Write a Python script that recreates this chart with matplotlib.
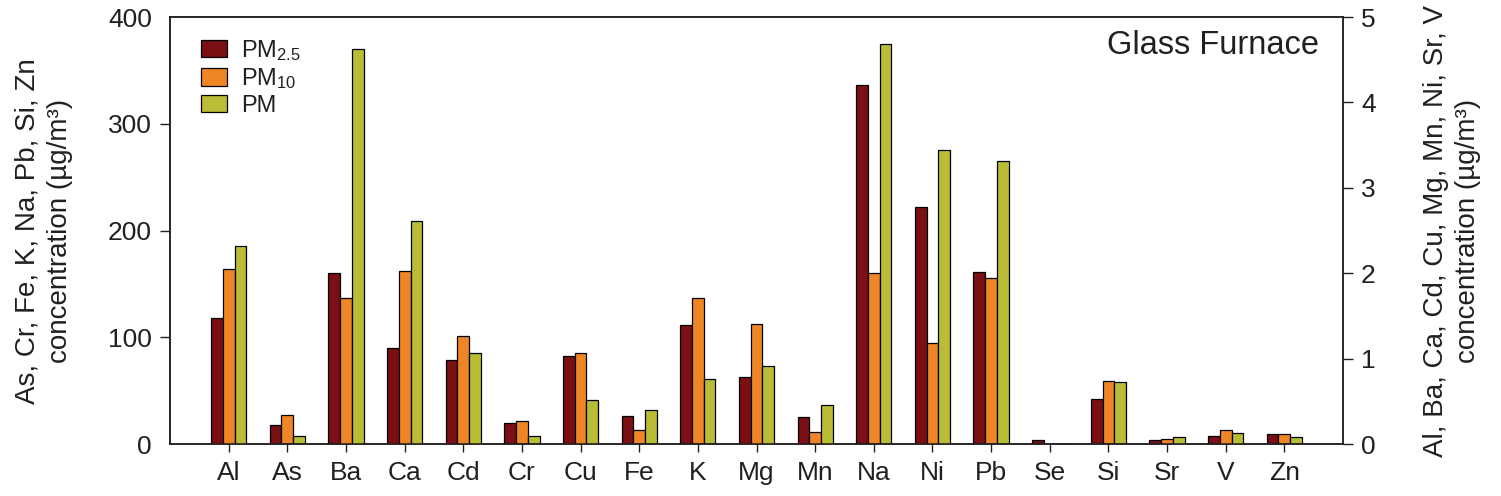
import numpy as np
import matplotlib.pyplot as plt

plt.rcParams['font.family'] = ['Liberation Sans', 'DejaVu Sans']
plt.rcParams['mathtext.fontset'] = 'custom'
plt.rcParams['mathtext.rm'] = 'Liberation Sans'
plt.rcParams['mathtext.default'] = 'regular'

# data (left-axis elements in µg/m3 on 0-400 scale, right-axis ones on 0-5 scale)
elements = ['Al', 'As', 'Ba', 'Ca', 'Cd', 'Cr', 'Cu', 'Fe', 'K', 'Mg',
            'Mn', 'Na', 'Ni', 'Pb', 'Se', 'Si', 'Sr', 'V', 'Zn']
right_axis = ['Al', 'Ba', 'Ca', 'Cd', 'Cu', 'Mg', 'Mn', 'Ni', 'Sr', 'V']
pm25 = [1.48, 18.1, 2.00, 1.13, 0.98, 19.6, 1.03, 25.9, 111.6, 0.78,
        0.32, 336.1, 2.77, 161.5, 3.7, 41.8, 0.047, 0.094, 9.4]
pm10 = [2.05, 27.1, 1.715, 2.03, 1.26, 21.5, 1.07, 12.8, 137.2, 1.40,
        0.14, 159.9, 1.18, 155.3, 0.0, 59.5, 0.055, 0.17, 9.4]
pm = [2.32, 7.5, 4.63, 2.61, 1.06, 7.5, 0.51, 31.5, 60.8, 0.91,
      0.46, 374.4, 3.44, 265.0, 0.0, 58.0, 0.086, 0.13, 6.9]
series = [('PM$_{2.5}$', pm25, '#7a1014'),
          ('PM$_{10}$', pm10, '#ef8626'),
          ('PM', pm, '#b9bd35')]

txt = '#231f20'
fig = plt.figure(figsize=(15.01, 4.96), dpi=100)
ax = fig.add_axes([0.1133, 0.1048, 0.7814, 0.8609])
ax2 = ax.twinx()

x = np.arange(len(elements))
is_right = np.array([e in right_axis for e in elements])
w = 0.2
handles = []
for k, (name, vals, col) in enumerate(series):
    vals = np.array(vals)
    off = (k - 1) * w
    h = ax.bar(x[~is_right] + off, vals[~is_right], w, color=col,
               edgecolor='black', linewidth=0.9, label=name)
    ax2.bar(x[is_right] + off, vals[is_right], w, color=col,
            edgecolor='black', linewidth=0.9)
    handles.append(h)

ax.set_xlim(-1, len(elements))
ax.set_ylim(0, 400)
ax2.set_ylim(0, 5)
ax.set_yticks([0, 100, 200, 300, 400])
ax2.set_yticks([0, 1, 2, 3, 4, 5])
ax.set_xticks(x)
ax.set_xticklabels(elements)

for a in (ax, ax2):
    a.tick_params(direction='out', length=7, width=1, labelsize=19,
                  colors=txt, labelcolor=txt)
    for s in a.spines.values():
        s.set_color('#231f20')
        s.set_linewidth(1.1)
ax.tick_params(axis='x', length=6, pad=6)
ax.tick_params(axis='y', pad=6)
ax2.tick_params(axis='y', pad=6)
yt = ax.yaxis.get_major_ticks()
yt[0].tick1line.set_visible(False)
yt[-1].tick1line.set_visible(False)

# axis titles
fig.text(0.029, 0.535, 'As, Cr, Fe, K, Na, Pb, Si, Zn\nconcentration (µg/m³)',
         rotation=90, ha='center', va='center', multialignment='center',
         fontsize=20, color=txt, linespacing=1.3)
fig.text(0.9673, 0.535, 'Al, Ba, Ca, Cd, Cu, Mg, Mn, Ni, Sr, V\nconcentration (µg/m³)',
         rotation=90, ha='center', va='center', multialignment='center',
         fontsize=20, color=txt, linespacing=1.3)

ax.text(0.9795, 0.934, 'Glass Furnace', transform=ax.transAxes, ha='right',
        va='center', fontsize=23.5, color=txt)

leg = ax.legend(handles=handles, loc='upper left', bbox_to_anchor=(0.012, 0.99),
                frameon=False, fontsize=17, handlelength=1.1, handleheight=0.75,
                handletextpad=0.6, labelspacing=0.15, borderaxespad=0.3)
for t in leg.get_texts():
    t.set_color(txt)

fig.savefig('out.png', dpi=100)
